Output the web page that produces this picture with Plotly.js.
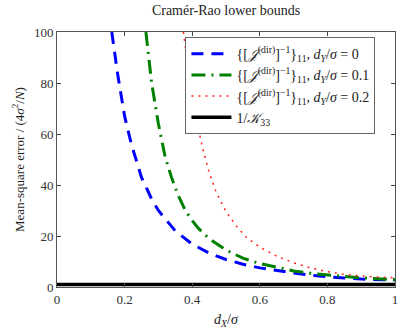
<!DOCTYPE html>
<html>
<head>
<meta charset="utf-8">
<script src="https://cdn.plot.ly/plotly-3.0.1.min.js"></script>
<style>
  body { margin: 0; background: #fff; }
  #chart { width: 415px; height: 333px; }
</style>
</head>
<body>
<div id="chart"></div>
<script>
// values
var xBlue  = [0.162, 0.18, 0.2, 0.22, 0.25, 0.28, 0.3, 0.35, 0.4, 0.45, 0.5, 0.55, 0.6, 0.65, 0.7, 0.75, 0.8, 0.85, 0.9, 0.95, 1.0];
var yBlue  = [100, 83, 67, 56, 43, 34.5, 30, 22, 16.8, 13.3, 10.8, 8.9, 7.5, 6.4, 5.5, 4.6, 4.0, 3.5, 3.1, 2.9, 2.7];

var xGreen = [0.263, 0.28, 0.3, 0.32, 0.34, 0.36, 0.38, 0.4, 0.42, 0.45, 0.5, 0.55, 0.6, 0.65, 0.7, 0.75, 0.8, 0.85, 0.9, 0.95, 1.0];
var yGreen = [100, 80, 64, 51, 42.5, 35.5, 30, 26, 22.8, 19, 14.5, 11.3, 9.2, 7.6, 6.3, 5.4, 4.7, 4.1, 3.6, 3.2, 2.9];

var xRed   = [0.374, 0.39, 0.41, 0.43, 0.45, 0.47, 0.5, 0.53, 0.56, 0.6, 0.65, 0.7, 0.75, 0.8, 0.85, 0.9, 0.95, 1.0];
var yRed   = [100, 84, 67, 55, 45, 37.5, 29.5, 24, 19.5, 15.6, 12.1, 9.5, 7.5, 6.0, 5.0, 4.3, 3.9, 3.6];

var xBlack = [0, 1];
var yBlack = [1, 1];

var names = [
  '{[<i>𝒥</i><sup>(dir)</sup>]<sup>−1</sup>}<sub>11</sub>, <i>d</i><sub><i>Y</i></sub>/<i>σ</i> = 0',
  '{[<i>𝒥</i><sup>(dir)</sup>]<sup>−1</sup>}<sub>11</sub>, <i>d</i><sub><i>Y</i></sub>/<i>σ</i> = 0.1',
  '{[<i>𝒥</i><sup>(dir)</sup>]<sup>−1</sup>}<sub>11</sub>, <i>d</i><sub><i>Y</i></sub>/<i>σ</i> = 0.2',
  '1/<i>𝒦</i><sub>33</sub>'
];

var xTicks = [0, 0.2, 0.4, 0.6, 0.8, 1];
var xTickText = ['0', '0.2', '0.4', '0.6', '0.8', '1'];
var yTicks = [0, 20, 40, 60, 80, 100];

var serif = 'Liberation Serif, DejaVu Serif, serif';

var data = [
  {x: xBlue, y: yBlue, type: 'scatter', mode: 'lines', name: names[0],
   line: {color: '#0000ff', width: 3, dash: '12px,8px'}},
  {x: xGreen, y: yGreen, type: 'scatter', mode: 'lines', name: names[1],
   line: {color: '#008000', width: 3, dash: '14px,6px,2px,6px'}},
  {x: xRed, y: yRed, type: 'scatter', mode: 'lines', name: names[2],
   line: {color: '#ff2020', width: 1.5, dash: '2px,5px'}},
  {x: xBlack, y: yBlack, type: 'scatter', mode: 'lines', name: names[3],
   line: {color: '#000000', width: 3.5}}
];

var layout = {
  width: 415,
  height: 333,
  margin: {l: 57, r: 20, t: 32, b: 46},
  paper_bgcolor: '#ffffff',
  plot_bgcolor: '#ffffff',
  font: {family: serif, size: 13, color: '#222'},
  showlegend: true,
  title: {
    text: 'Cramér-Rao lower bounds',
    font: {family: serif, size: 14, color: '#222'},
    xref: 'paper', x: 0.5, xanchor: 'center',
    yref: 'container', y: 0.97, yanchor: 'middle'
  },
  xaxis: {
    range: [0, 1],
    tickvals: xTicks,
    ticktext: xTickText,
    ticks: 'inside',
    ticklen: 4,
    tickcolor: '#444',
    showgrid: false,
    zeroline: false,
    showline: true,
    linecolor: '#555',
    linewidth: 1,
    mirror: 'ticks',
    tickfont: {family: serif, size: 13, color: '#333'},
    title: {text: '<i>d</i><sub><i>X</i></sub>/<i>σ</i>', font: {family: serif, size: 14, color: '#222'}, standoff: 8}
  },
  yaxis: {
    range: [0, 100],
    tickvals: yTicks,
    ticks: 'inside',
    ticklen: 4,
    tickcolor: '#444',
    showgrid: false,
    zeroline: false,
    showline: true,
    linecolor: '#555',
    linewidth: 1,
    mirror: 'ticks',
    tickfont: {family: serif, size: 13, color: '#333'},
    title: {text: 'Mean-square error / (4<i>σ</i><sup>2</sup>/<i>N</i>)', font: {family: serif, size: 13, color: '#222'}, standoff: 6}
  },
  legend: {
    x: 0.38, y: 0.98, xanchor: 'left', yanchor: 'top',
    bgcolor: '#ffffff',
    bordercolor: '#666',
    borderwidth: 1,
    font: {family: serif, size: 14, color: '#222'},
    tracegroupgap: 0,
    itemwidth: 40
  }
};

Plotly.newPlot('chart', data, layout, {displayModeBar: false, staticPlot: true});
</script>
</body>
</html>
